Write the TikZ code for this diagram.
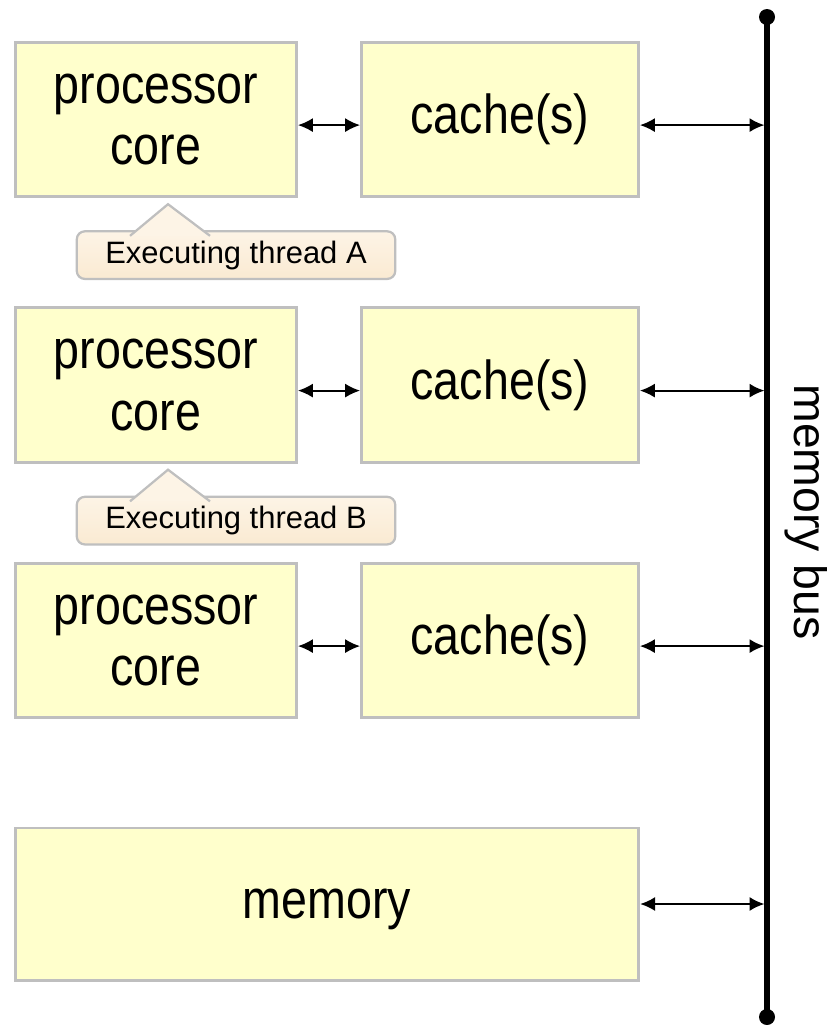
\documentclass[tikz,border=0pt]{standalone}
\usepackage{fontspec}
\setmainfont{Liberation Sans}
\newfontfamily\boxfont[FakeStretch=0.85]{Liberation Sans}
\usetikzlibrary{positioning,arrows.meta}

\definecolor{boxfill}{HTML}{FFFFCC}
\definecolor{boxline}{HTML}{BFBFBF}
\definecolor{notetop}{HTML}{FDF4E6}
\definecolor{notebot}{HTML}{FAEAD2}

\tikzset{
  unit/.style={draw=boxline, fill=boxfill, line width=1.05pt, align=center,
    font=\boxfont\fontsize{19.5}{22}\selectfont},
  core/.style={unit, minimum width=3.51cm, minimum height=1.93cm},
  cachebox/.style={unit, minimum width=3.46cm, minimum height=1.93cm},
  thread/.style={draw=boxline, top color=notetop, bottom color=notebot, line width=0.8pt,
    rounded corners=0.1cm, minimum width=3.98cm, minimum height=0.58cm,
    font=\fontsize{11}{13}\selectfont},
  pointer/.style={draw=boxline, fill=notetop, line width=0.8pt},
  link/.style={{Latex[length=5.3pt,width=5pt]}-{Latex[length=5.3pt,width=5pt]}, line width=0.7pt},
}

\begin{document}
\begin{tikzpicture}[x=0.0125cm, y=-0.0125cm]
\useasboundingbox (0,0) rectangle (827,1025);

% processor cores and their caches
\node[core] at (156,119.5) (core1) {processor\\core};
\node[cachebox] at (500,119.5) (cache1) {cache(s)};
\node[core] at (156,385) (core2) {processor\\core};
\node[cachebox] at (500,385) (cache2) {cache(s)};
\node[core] at (156,640.5) (core3) {processor\\core};
\node[cachebox] at (500,640.5) (cache3) {cache(s)};
\node[unit, minimum width=7.79cm, minimum height=1.9cm, text height=0.5cm] at (327,904) (mem) {memory};

% the bus
\coordinate (bustop) at (767,17);
\coordinate (busbot) at (767,1017);
\draw[line width=1.8pt] (bustop) -- (busbot);
\fill (bustop) circle[radius=0.1cm];
\fill (busbot) circle[radius=0.1cm];
\node[rotate=-90, inner sep=0pt, font=\fontsize{16.5}{19.8}\selectfont] at (806,512) (buslabel) {memory bus};

% links
\foreach \i in {1,2,3} {
  \draw[link] ([yshift=-0.07cm]core\i.east) -- ([yshift=-0.07cm]cache\i.west);
  \draw[link, shorten >=0.9pt] ([yshift=-0.07cm]cache\i.east) -- ([yshift=-0.07cm]cache\i.east -| bustop);
}
\draw[link, shorten >=0.9pt] (mem.east) -- (mem.east -| bustop);

% which thread runs where
\node[thread, below=0.4cm of core1.south, xshift=1cm] (thrA) {Executing thread A};
\filldraw[pointer] ([xshift=-1.325cm,yshift=-2pt]thrA.north) -- ([xshift=0.15cm,yshift=-0.075cm]core1.south) -- ([xshift=-0.325cm,yshift=-2pt]thrA.north);
\node[thread, below=0.4cm of core2.south, xshift=1cm] (thrB) {Executing thread B};
\filldraw[pointer] ([xshift=-1.325cm,yshift=-2pt]thrB.north) -- ([xshift=0.15cm,yshift=-0.075cm]core2.south) -- ([xshift=-0.325cm,yshift=-2pt]thrB.north);
\end{tikzpicture}
\end{document}
